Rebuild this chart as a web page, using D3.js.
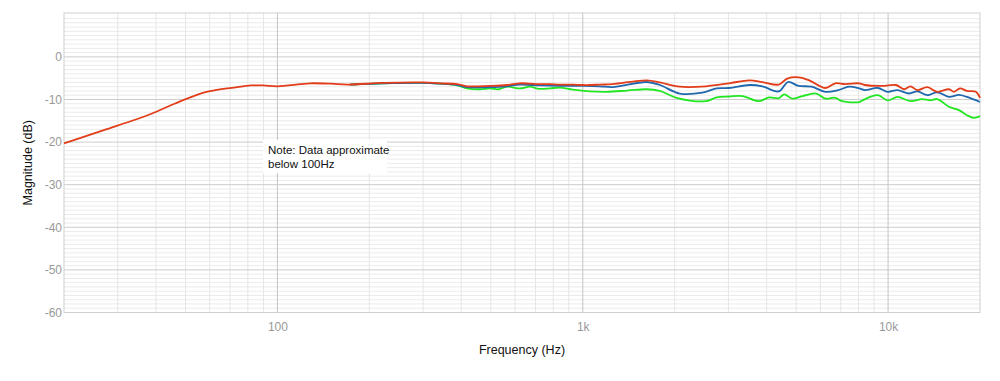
<!DOCTYPE html>
<html>
<head>
<meta charset="utf-8">
<script src="https://cdn.jsdelivr.net/npm/d3@7"></script>
<style>
  html, body { margin: 0; padding: 0; background: #fff; }
  svg { display: block; font-family: "Liberation Sans", Arial, Helvetica, sans-serif; }
</style>
</head>
<body>
<svg id="chart" width="1000" height="381"></svg>
<script>
// ---- data ----
const redFreqs = [20, 27, 38.5, 46, 56, 64, 72, 82, 90, 100, 119, 128, 150, 170, 222, 300, 341, 388, 418, 497, 565, 623, 671, 724, 780, 841, 928, 1000, 1054, 1136, 1253, 1620, 1788, 2078, 2534, 3014, 3514, 3875, 4385, 4676, 5090, 5519, 6233, 6712, 7232, 8039, 8394, 9559, 10620, 11279, 11837, 12474, 13443, 14487, 15822, 16445, 17200, 18125, 19390, 20000];
const redValues = [-20.3, -17.2, -13.4, -11.0, -8.6, -7.7, -7.2, -6.7, -6.7, -6.9, -6.4, -6.2, -6.3, -6.5, -6.1, -6.0, -6.2, -6.4, -6.9, -6.8, -6.6, -6.2, -6.3, -6.4, -6.4, -6.5, -6.5, -6.6, -6.6, -6.5, -6.4, -5.5, -6.0, -7.0, -6.9, -6.2, -5.5, -5.9, -6.5, -5.1, -4.8, -5.5, -7.3, -6.2, -6.4, -6.2, -6.6, -6.8, -6.6, -7.6, -6.9, -7.8, -7.1, -8.2, -7.6, -8.2, -7.4, -8.0, -8.2, -9.6];

const blueFreqs = [173, 222, 300, 341, 388, 418, 497, 565, 623, 724, 841, 1000, 1136, 1253, 1620, 1788, 2078, 2467, 2741, 3014, 3514, 3875, 4385, 4700, 5090, 5610, 6233, 6864, 7457, 8039, 8394, 9251, 9972, 10738, 11710, 12474, 13443, 14487, 15822, 17060, 18125, 20000];
const blueValues = [-6.5, -6.2, -6.1, -6.3, -6.6, -7.1, -7.1, -6.9, -6.5, -6.7, -6.8, -6.8, -6.9, -7.1, -5.9, -6.6, -8.6, -8.4, -7.4, -7.3, -6.6, -6.9, -8.1, -5.9, -6.8, -7.0, -8.2, -7.8, -7.0, -7.4, -7.8, -7.3, -8.2, -7.8, -8.6, -8.1, -9.0, -8.3, -9.4, -8.9, -9.4, -10.6];

const greenFreqs = [173, 222, 300, 341, 388, 418, 460, 497, 530, 565, 623, 671, 720, 780, 841, 928, 1054, 1198, 1400, 1620, 1788, 2029, 2534, 2741, 3014, 3334, 3775, 4084, 4385, 4572, 4856, 5236, 5818, 6233, 6712, 7074, 8039, 8240, 9251, 9972, 10738, 11837, 12916, 13748, 14487, 15822, 17060, 18125, 19100, 20000];
const greenValues = [-6.5, -6.2, -6.1, -6.3, -6.7, -7.4, -7.6, -7.4, -7.6, -7.0, -7.4, -7.0, -7.5, -7.4, -7.2, -7.7, -8.1, -8.2, -7.9, -7.6, -8.0, -9.6, -10.4, -9.5, -9.3, -9.2, -10.4, -9.5, -9.7, -8.8, -9.8, -9.2, -8.6, -9.8, -9.6, -10.4, -10.6, -10.2, -9.0, -10.2, -9.4, -10.4, -9.9, -10.2, -9.9, -11.7, -12.5, -13.7, -14.3, -13.9];

const xTickValues = [100, 1000, 10000];
const xTickLabels = ["100", "1k", "10k"];
const yTickValues = [0, -10, -20, -30, -40, -50, -60];
const noteLines = ["Note: Data approximate", "below 100Hz"];
const xTitle = "Frequency (Hz)";
const yTitle = "Magnitude (dB)";

// ---- layout ----
const svg = d3.select("#chart");
const pL = 64, pR = 980, pT = 13, pB = 312.5;
const x = d3.scaleLog().domain([20, 20000]).range([pL, pR]);
const y = d3.scaleLinear().domain([10.3, -60]).range([pT, pB]);

const g = svg.append("g");

// minor horizontal grid (1 dB)
const minorY = d3.range(-60, 11, 1).filter(v => v % 10 !== 0);
g.selectAll(".hmin").data(minorY).enter().append("line")
  .attr("x1", pL).attr("x2", pR)
  .attr("y1", d => y(d)).attr("y2", d => y(d))
  .attr("stroke", "#ebebeb").attr("stroke-width", 1);

// minor vertical grid
const minorX = [];
[10, 100, 1000, 10000].forEach(dec => {
  for (let k = 2; k <= 9; k++) {
    const f = dec * k;
    if (f > 20 && f < 20000) minorX.push(f);
  }
});
g.selectAll(".vmin").data(minorX).enter().append("line")
  .attr("x1", d => x(d)).attr("x2", d => x(d))
  .attr("y1", pT).attr("y2", pB)
  .attr("stroke", "#e6e6e6").attr("stroke-width", 1);

// major horizontal grid
g.selectAll(".hmaj").data(yTickValues.filter(v => v !== -60)).enter().append("line")
  .attr("x1", pL).attr("x2", pR)
  .attr("y1", d => y(d)).attr("y2", d => y(d))
  .attr("stroke", "#cccccc").attr("stroke-width", 1);

// major vertical grid
g.selectAll(".vmaj").data(xTickValues).enter().append("line")
  .attr("x1", d => x(d)).attr("x2", d => x(d))
  .attr("y1", pT).attr("y2", pB)
  .attr("stroke", "#c4c4c4").attr("stroke-width", 1);

// frame
g.append("rect")
  .attr("x", pL).attr("y", pT)
  .attr("width", pR - pL).attr("height", pB - pT)
  .attr("fill", "none").attr("stroke", "#cfcfcf").attr("stroke-width", 1);

// axes (labels only)
const xAxis = d3.axisBottom(x).tickValues(xTickValues)
  .tickFormat((d, i) => xTickLabels[i]).tickSize(0).tickPadding(10);
const xg = svg.append("g").attr("transform", `translate(0,${pB})`).call(xAxis);
xg.select(".domain").remove();
xg.selectAll("text").attr("fill", "#999").style("font-size", "12px");

const yAxis = d3.axisLeft(y).tickValues(yTickValues).tickSize(0).tickPadding(2)
  .tickFormat(d => String(d));
const yg = svg.append("g").attr("transform", `translate(${pL},0)`).call(yAxis);
yg.select(".domain").remove();
yg.selectAll("text").attr("fill", "#999").style("font-size", "12px");

// titles
svg.append("text").attr("x", (pL + pR) / 2).attr("y", 354)
  .attr("text-anchor", "middle").style("font-size", "12.5px").attr("fill", "#111").text(xTitle);
svg.append("text").attr("transform", `translate(32,${(pT + pB) / 2}) rotate(-90)`)
  .attr("text-anchor", "middle").style("font-size", "12.5px").attr("fill", "#111").text(yTitle);

// curves
const line = d3.line().x(d => x(d[0])).y(d => y(d[1])).curve(d3.curveCatmullRom.alpha(0.5));
const series = [
  { f: greenFreqs, v: greenValues, c: "#22e622" },
  { f: blueFreqs, v: blueValues, c: "#1f68ad" },
  { f: redFreqs, v: redValues, c: "#e23d1a" }
];
series.forEach(s => {
  svg.append("path")
    .datum(s.f.map((f, i) => [f, s.v[i]]))
    .attr("d", line)
    .attr("fill", "none")
    .attr("stroke", s.c)
    .attr("stroke-width", 1.8)
    .attr("stroke-linejoin", "round");
});

// note box
const noteX = 263, noteY = 140;
svg.append("rect").attr("x", noteX).attr("y", noteY).attr("width", 124).attr("height", 33)
  .attr("fill", "#fff");
noteLines.forEach((t, i) => {
  svg.append("text").attr("x", noteX + 5).attr("y", noteY + 14 + i * 14)
    .style("font-size", "11.5px").attr("fill", "#111").text(t);
});
</script>
</body>
</html>
